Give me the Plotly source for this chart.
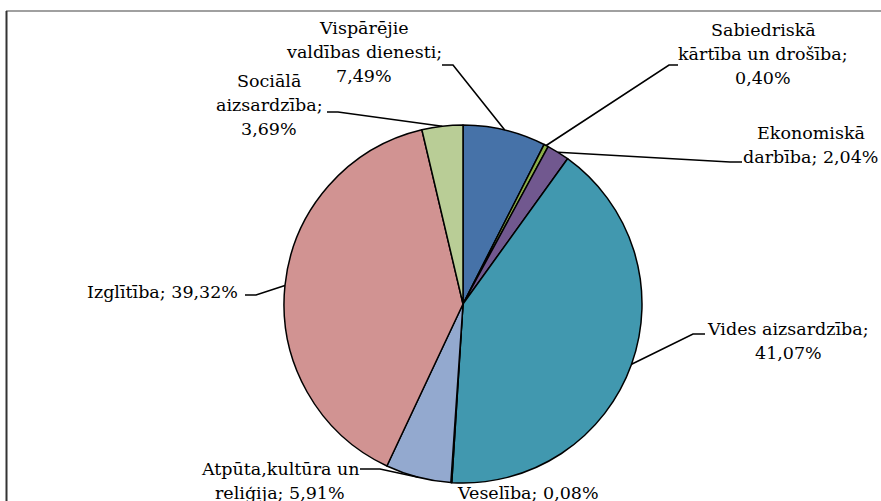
import math
import plotly.graph_objects as go

# ---- data ----
categories = ["Vispārējie valdības dienesti", "Sabiedriskā kārtība un drošība",
              "Ekonomiskā darbība", "Vides aizsardzība", "Veselība",
              "Atpūta,kultūra un reliģija", "Izglītība", "Sociālā aizsardzība"]
values = [7.49, 0.40, 2.04, 41.07, 0.08, 5.91, 39.32, 3.69]
colors = ["#4672A8", "#8DB04A", "#71588F", "#4198AF", "#DB843D",
          "#93A9CF", "#D19392", "#B9CD96"]
label_lines = [
    ["Vispārējie", "valdības dienesti;", "7,49%"],
    ["Sabiedriskā", "kārtība un drošība;", "0,40%"],
    ["Ekonomiskā", "darbība; 2,04%"],
    ["Vides aizsardzība;", "41,07%"],
    ["Veselība; 0,08%"],
    ["Atpūta,kultūra un", "reliģija; 5,91%"],
    ["Izglītība; 39,32%"],
    ["Sociālā", "aizsardzība;", "3,69%"],
]

W, H = 881, 501
CX, CY, R = 463, 304, 179
FONT = "DejaVu Serif"
FS = 17.5
LS = 24

# label layout (pixel): x, center y of block, anchor
label_pos = [
    (364, 52, "center"),
    (763, 54, "center"),
    (811, 145, "center"),
    (788, 341, "center"),
    (528, 493, "center"),
    (280, 481, "center"),
    (240, 292, "right"),
    (269, 105, "center"),
]
# leader elbow / end points (pixel) or None
leaders = [
    [(453, 65), (442, 65)],
    [(669, 65), (678, 65)],
    [(730, 162), (742, 162)],
    [(693, 334), (705, 334)],
    None,
    [(380, 469), (360, 469)],
    [(256, 295), (245, 295)],
    [(338, 112), (327, 112)],
]

def px(x):
    return x / W

def py(y):
    return 1 - y / H

fig = go.Figure(go.Pie(
    labels=categories, values=values, sort=False, direction="clockwise",
    rotation=0, marker=dict(colors=colors, line=dict(color="black", width=1.5)),
    textinfo="none", hoverinfo="label+percent", showlegend=False,
    domain=dict(x=[px(CX - R), px(CX + R)], y=[py(CY + R), py(CY - R)]),
))

shapes = []
annotations = []
total = sum(values)
cum = 0.0
for i, v in enumerate(values):
    mid = (cum + v / 2) / total * 2 * math.pi
    cum += v
    ex = CX + R * math.sin(mid)
    ey = CY - R * math.cos(mid)
    if leaders[i]:
        pts = [(ex, ey)] + leaders[i]
        path = "M " + " L ".join(f"{px(x)},{py(y)}" for x, y in pts)
        shapes.append(dict(type="path", xref="paper", yref="paper", path=path,
                           line=dict(color="black", width=1.6)))
    lx, ly, anc = label_pos[i]
    n = len(label_lines[i])
    for k, t in enumerate(label_lines[i]):
        yy = ly + (k - (n - 1) / 2) * LS
        annotations.append(dict(text=t, x=px(lx), y=py(yy), xref="paper", yref="paper",
                                xanchor=anc, yanchor="middle", showarrow=False,
                                font=dict(family=FONT, size=FS, color="black")))

# chart frame
shapes.append(dict(type="line", xref="paper", yref="paper", x0=px(6), x1=px(W + 10),
                   y0=py(11), y1=py(11), line=dict(color="#808080", width=1.5)))
shapes.append(dict(type="line", xref="paper", yref="paper", x0=px(6.5), x1=px(6.5),
                   y0=py(11), y1=py(H + 10), line=dict(color="#333333", width=2)))

fig.update_layout(width=W, height=H, margin=dict(l=0, r=0, t=0, b=0),
                  paper_bgcolor="white", plot_bgcolor="white",
                  font=dict(family=FONT),
                  shapes=shapes, annotations=annotations)
fig.write_html("out.html", config={"displayModeBar": False},
               post_script="document.body.style.margin='0';document.body.style.overflow='hidden';")
